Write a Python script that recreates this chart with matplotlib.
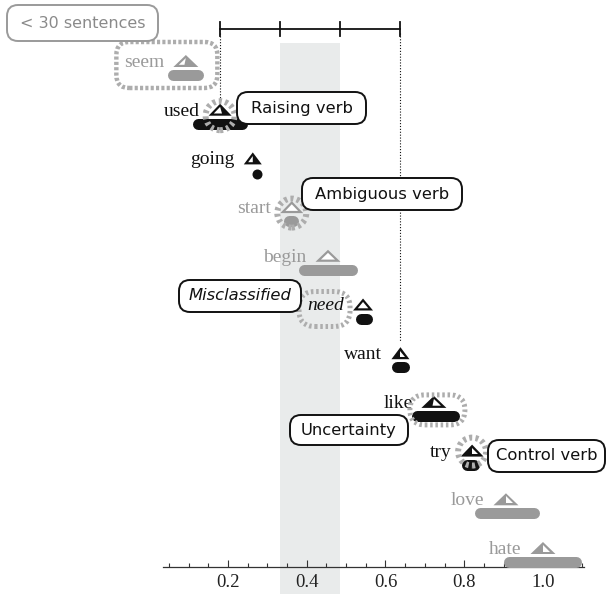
import numpy as np
import matplotlib
matplotlib.use('Agg')
import matplotlib.pyplot as plt
from matplotlib.patches import Polygon, Ellipse, FancyBboxPatch
from matplotlib.transforms import IdentityTransform

# ---------------- data ----------------
verbs = ['seem', 'used', 'going', 'start', 'begin', 'need', 'want', 'like', 'try', 'love', 'hate']
means = [0.093, 0.180, 0.263, 0.362, 0.454, 0.543, 0.638, 0.723, 0.820, 0.906, 1.000]
ci_low = [0.046, 0.111, 0.274, 0.340, 0.378, 0.523, 0.616, 0.667, 0.794, 0.827, 0.901]
ci_high = [0.137, 0.250, 0.274, 0.378, 0.530, 0.566, 0.660, 0.789, 0.840, 0.990, 1.099]
few_sentences = [True, False, False, True, True, False, False, False, False, True, True]
white_from = [0.0, 0.0, 0.0, 0.0, 0.0, 0.0, 0.5, 0.4, 0.5, 0.5, 0.5]
white_to = [0.4, 0.65, 0.5, 1.0, 1.0, 1.0, 1.0, 1.0, 1.0, 1.0, 1.0]
tick_values = [0.2, 0.4, 0.6, 0.8, 1.0]
tick_labels = ['0.2', '0.4', '0.6', '0.8', '1.0']

# ---------------- style ----------------
W, H = 607, 594
BLACK = '#111111'
GRAY = '#9a9a9a'
HL = '#adadad'
BAND = '#e9ebeb'
tri_width = [25, 23, 18, 23, 25, 20, 18, 25, 23, 25, 25]
TRI_H = 12
BAR_T = 11
BAR_DY = 8
Y0, ROW = 67, 48.7

fig = plt.figure(figsize=(W / 100, H / 100), dpi=100)
ax = fig.add_axes([0, 0, 1, 1])
XL, XR = -0.379, 1.1626
ax.set_xlim(XL, XR)
ax.set_ylim(H, 0)  # y measured in pixels from the top
dxpp = (XR - XL) / W

for s in ['left', 'right', 'top']:
    ax.spines[s].set_visible(False)
ax.set_yticks([])
ax.spines['bottom'].set_position(('data', 567))
ax.spines['bottom'].set_bounds(0.035, 1.105)
ax.spines['bottom'].set_linewidth(0.9)
ax.spines['bottom'].set_color('#333333')
ax.set_xticks(tick_values)
ax.set_xticklabels(tick_labels, fontfamily='Liberation Serif', fontsize=13.5, color='#222222')
ax.set_xticks(np.arange(0.05, 1.101, 0.05), minor=True)
ax.tick_params(axis='x', which='major', direction='in', length=5, width=0.8, pad=5, color='#333333')
ax.tick_params(axis='x', which='minor', direction='in', length=3, width=0.8, color='#333333')

rows = [Y0 + ROW * i for i in range(len(verbs))]
colors = [GRAY if f else BLACK for f in few_sentences]
idx = {v: i for i, v in enumerate(verbs)}

# bracket between 'used' and 'want' split in thirds
m_a, m_b = means[idx['used']], means[idx['want']]
thirds = [m_a + (m_b - m_a) * k / 3 for k in range(4)]
ax.axvspan(thirds[1], thirds[2], ymin=0, ymax=(H - 43) / H, color=BAND, zorder=0, lw=0)
ax.plot([m_a, m_b], [29, 29], color=BLACK, lw=1.3, zorder=2)
for t in thirds:
    ax.plot([t, t], [22, 36], color=BLACK, lw=1.3, zorder=2)
for vi in ['used', 'want']:
    i = idx[vi]
    ax.plot([means[i], means[i]], [33, rows[i] - TRI_H - 5], color=BLACK, lw=0.8,
            ls=(0, (1, 1.6)), zorder=2)

def disp(v, y):
    return ax.transData.transform((v, y))

# ---------------- intervals ----------------
for i in range(len(verbs)):
    x0 = ci_low[i] + (BAR_T / 2) * dxpp
    x1 = ci_high[i] - (BAR_T / 2) * dxpp
    yb = rows[i] + BAR_DY
    if x1 <= x0:
        mid = (ci_low[i] + ci_high[i]) / 2
        ax.plot([mid], [yb + 2], marker='o', ms=10 * 0.72, mec='none',
                color=colors[i], zorder=3)
    else:
        ax.plot([x0, x1], [yb, yb], color=colors[i], lw=BAR_T * 0.72,
                solid_capstyle='round', zorder=3)

# ---------------- triangles ----------------
for i in range(len(verbs)):
    m, base, c = means[i], rows[i], colors[i]
    a = tri_width[i] / 2
    h = TRI_H
    outer = [(0, h), (-a, 0), (a, 0)]
    ax.add_patch(Polygon([(m + X * dxpp, base - Y) for X, Y in outer], closed=True,
                         fc=c, ec='none', zorder=4))
    L = np.hypot(a, h)
    r = a * h / (a + L)
    k = (r - 2.2) / r
    A = (0, r + k * (h - r))
    B = (-k * a, r - k * r)
    C = (k * a, r - k * r)
    lo, hi = white_from[i], white_to[i]
    P1 = (B[0] + lo * (C[0] - B[0]), B[1])
    P2 = (B[0] + hi * (C[0] - B[0]), B[1])
    ax.add_patch(Polygon([(m + X * dxpp, base - Y) for X, Y in [A, P1, P2]], closed=True,
                         fc='white', ec='none', zorder=4.1))
    # verb label
    style = 'italic' if verbs[i] == 'need' else 'normal'
    ax.text(m - (a + 9) * dxpp, base, verbs[i], ha='right', va='baseline',
            fontfamily='Liberation Serif', fontsize=14, color=c, style=style, zorder=5)

# ---------------- highlights ----------------
hl_circles = [('used', 0, 14.5), ('start', 0, 14.5), ('try', -5, 14)]
for v, dy, rad in hl_circles:
    i = idx[v]
    cx, cy = disp(means[i], rows[i] + dy)
    ax.add_patch(Ellipse((cx, cy), 2 * rad, 2 * rad, transform=IdentityTransform(),
                         fill=False, ec=HL, lw=4.3, ls=(0, (0.5, 0.55)), zorder=5))

hl_boxes = [('seem', -19, -2, 101, 46, 13, (0, (0.7, 0.5)), 3.2),
            ('need', -38.5, -1.5, 51, 35, 16, (0, (0.5, 0.55)), 3.6),
            ('like', 3.5, 2, 55, 30, 15, (0, (0.5, 0.55)), 3.6)]
for v, dx, dy, w, hh, rr, ls, lw in hl_boxes:
    i = idx[v]
    cx, cy = disp(means[i] + dx * dxpp, rows[i] + dy)
    ax.add_patch(FancyBboxPatch((cx - w / 2, cy - hh / 2), w, hh,
                                boxstyle=f'round,pad=0,rounding_size={rr}',
                                transform=IdentityTransform(), fill=False, ec=HL,
                                lw=lw, ls=ls, zorder=5))

# ---------------- label boxes ----------------
def label_box(cxp, cyp, w, hh, text, italic=False, ec=BLACK, tc=BLACK, size=11.8):
    cx, cy = disp(XL + cxp * dxpp, cyp)
    ax.add_patch(FancyBboxPatch((cx - w / 2, cy - hh / 2), w, hh,
                                boxstyle='round,pad=0,rounding_size=11',
                                transform=IdentityTransform(), fc='white', ec=ec,
                                lw=1.4, zorder=6))
    ax.text(cx, cy, text, transform=IdentityTransform(), ha='center', va='center',
            fontsize=size, color=tc, style='italic' if italic else 'normal',
            fontfamily='DejaVu Sans', zorder=7)

label_box(82.5, 23, 151, 36, '< 30 sentences', ec='#9a9a9a', tc='#8a8a8a', size=11.5)
label_box(301.5, 108, 129, 32, 'Raising verb')
label_box(382, 194, 160, 32, 'Ambiguous verb')
label_box(240, 296, 122, 32, 'Misclassified', italic=True)
label_box(349, 430, 118, 30, 'Uncertainty')
label_box(546.5, 456, 117, 32, 'Control verb')

fig.savefig('out.png', dpi=100)
